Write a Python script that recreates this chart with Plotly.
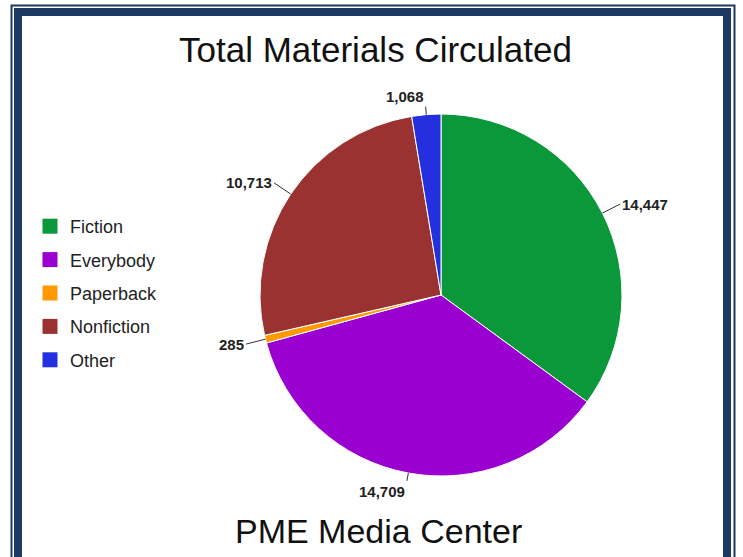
import numpy as np
import plotly.graph_objects as go

# ---- data ----
categories = ["Fiction", "Everybody", "Paperback", "Nonfiction", "Other"]
values = [14447, 14709, 285, 10713, 1068]
colors = ["#0b983a", "#9a00d0", "#ff9900", "#9a3232", "#2430dd"]
title_text = "Total Materials Circulated"
footer_text = "PME Media Center"

# ---- layout geometry (pixels) ----
W, H = 743, 557
cx, cy, R = 441, 295, 181
FONT = "Liberation Sans, Arial, sans-serif"
NAVY = "#1c3963"


def px(x):
    return x / W


def py(y):
    return 1 - y / H


fig = go.Figure()
fig.add_trace(go.Pie(
    labels=categories, values=values, sort=False, direction="clockwise", rotation=0,
    marker=dict(colors=colors, line=dict(color="white", width=1)),
    textinfo="none", hoverinfo="label+value", showlegend=False,
    domain=dict(x=[px(cx - R), px(cx + R)], y=[py(cy + R), py(cy - R)]),
))

# legend entries (one group each so the spacing can be set)
for name, col in zip(categories, colors):
    fig.add_trace(go.Scatter(
        x=[None], y=[None], mode="markers", name=name, legendgroup=name,
        marker=dict(symbol="square", size=15, color=col), showlegend=True,
    ))

# value labels with leader lines, positioned from the slice angles
shapes = []
annotations = []
total = float(sum(values))
cum = 0.0
for v in values:
    mid = np.radians((cum + v / 2.0) / total * 360.0)
    cum += v
    s, c = np.sin(mid), np.cos(mid)
    vertical = abs(s) < 0.4
    L = 8 if vertical else 20
    x0, y0 = cx + R * s, cy - R * c
    x1, y1 = cx + (R + L) * s, cy - (R + L) * c
    shapes.append(dict(type="line", xref="paper", yref="paper",
                       x0=px(x0), y0=py(y0), x1=px(x1), y1=py(y1),
                       line=dict(color="#333333", width=1)))
    if vertical:
        xa = "right" if s < 0 else "left"
        ya = "bottom" if c > 0 else "top"
    else:
        xa = "left" if s > 0 else "right"
        ya = "middle"
    annotations.append(dict(
        text="<b>{:,}</b>".format(v), x=px(x1), y=py(y1), xref="paper", yref="paper",
        xanchor=xa, yanchor=ya, showarrow=False,
        font=dict(family=FONT, size=15, color="#222222"),
    ))

annotations.append(dict(text=title_text, x=px(375), y=py(49), xref="paper", yref="paper",
                        xanchor="center", yanchor="middle", showarrow=False,
                        font=dict(family=FONT, size=35, color="#111111")))
annotations.append(dict(text=footer_text, x=px(378), y=py(531), xref="paper", yref="paper",
                        xanchor="center", yanchor="middle", showarrow=False,
                        font=dict(family=FONT, size=34, color="#111111")))

# frame
shapes.append(dict(type="rect", xref="paper", yref="paper",
                   x0=px(18), x1=px(727), y0=py(12), y1=-0.1,
                   line=dict(color=NAVY, width=8)))
shapes.append(dict(type="rect", xref="paper", yref="paper",
                   x0=px(11.5), x1=px(734.5), y0=py(5.5), y1=-0.1,
                   line=dict(color=NAVY, width=2)))

fig.update_layout(
    width=W, height=H, margin=dict(l=0, r=0, t=0, b=0),
    paper_bgcolor="white", plot_bgcolor="white",
    xaxis=dict(visible=False), yaxis=dict(visible=False),
    showlegend=True,
    legend=dict(x=px(30), y=py(208), xanchor="left", yanchor="top",
                font=dict(family=FONT, size=18, color="#222222"),
                tracegroupgap=7, bgcolor="rgba(0,0,0,0)", itemclick=False),
    shapes=shapes, annotations=annotations,
    font=dict(family=FONT),
)

fig.write_html("out.html",
               config={"displayModeBar": False},
               post_script="document.body.style.margin='0';document.body.style.overflow='hidden';")
